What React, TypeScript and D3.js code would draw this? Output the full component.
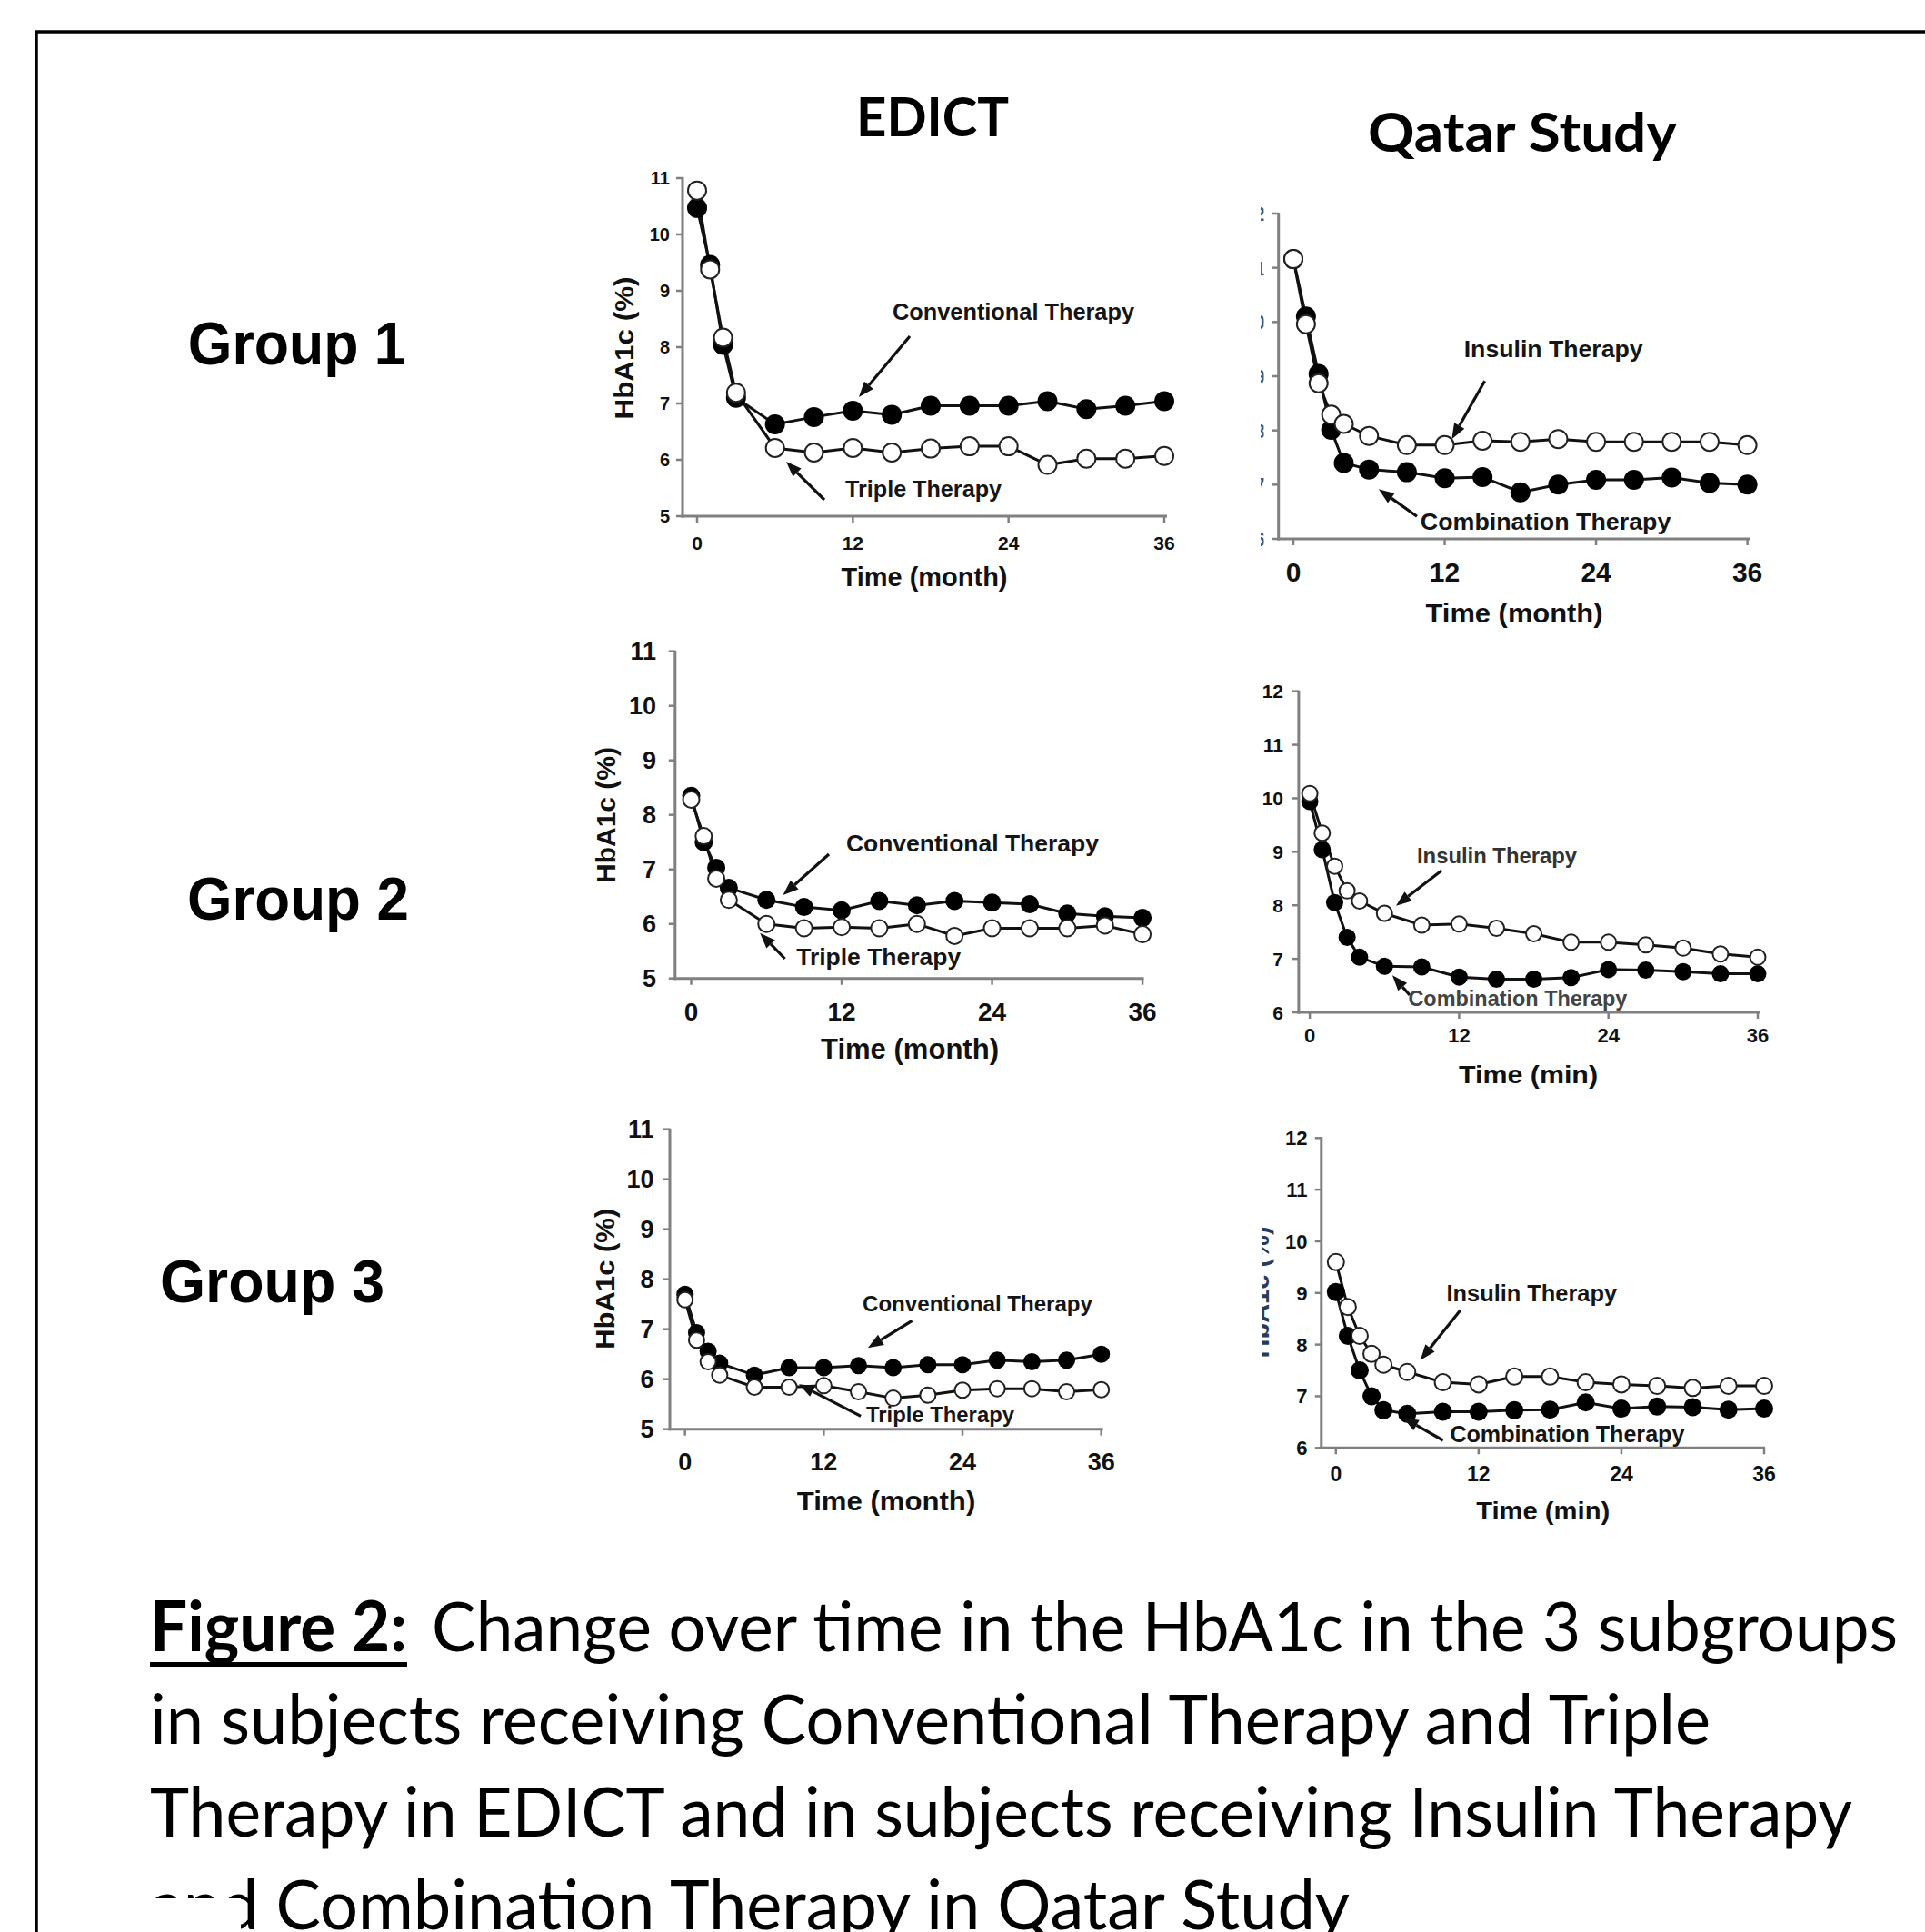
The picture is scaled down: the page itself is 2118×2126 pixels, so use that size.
import React from "react";
import * as d3 from "d3";

// ---------- DATA ----------
const monthsEdict = [0, 1, 2, 3, 6, 9, 12, 15, 18, 21, 24, 27, 30, 33, 36];
const monthsQatar = [0, 1, 2, 3, 4, 6, 9, 12, 15, 18, 21, 24, 27, 30, 33, 36];
const xTickValues = [0, 12, 24, 36];
const edictYTicks = [5, 6, 7, 8, 9, 10, 11];
const qatarYTicks = [6, 7, 8, 9, 10, 11, 12];

const g1EdictConventional = [10.47, 9.46, 8.04, 7.1, 6.63, 6.76, 6.87, 6.8, 6.96, 6.96, 6.96, 7.04, 6.9, 6.96, 7.04];
const g1EdictTriple = [10.78, 9.38, 8.17, 7.19, 6.21, 6.13, 6.21, 6.13, 6.2, 6.24, 6.24, 5.91, 6.02, 6.02, 6.07];

const g1QatarInsulin = [11.16, 9.96, 8.87, 8.29, 8.12, 7.9, 7.73, 7.73, 7.81, 7.79, 7.84, 7.79, 7.79, 7.79, 7.79, 7.73];
const g1QatarCombination = [11.16, 10.1, 9.04, 8.01, 7.4, 7.28, 7.23, 7.12, 7.14, 6.86, 7.0, 7.09, 7.09, 7.13, 7.03, 7.0];

const g2EdictConventional = [8.35, 7.5, 7.03, 6.66, 6.44, 6.31, 6.25, 6.42, 6.34, 6.42, 6.39, 6.36, 6.19, 6.14, 6.11];
const g2EdictTriple = [8.28, 7.61, 6.83, 6.44, 6.0, 5.92, 5.94, 5.92, 6.0, 5.78, 5.92, 5.92, 5.92, 5.97, 5.81];

const g2QatarInsulin = [10.09, 9.35, 8.73, 8.27, 8.08, 7.85, 7.63, 7.65, 7.57, 7.47, 7.31, 7.31, 7.26, 7.2, 7.09, 7.03];
const g2QatarCombination = [9.94, 9.04, 8.05, 7.4, 7.03, 6.86, 6.85, 6.66, 6.62, 6.62, 6.65, 6.8, 6.79, 6.76, 6.72, 6.72];

const g3EdictConventional = [7.7, 6.93, 6.56, 6.32, 6.08, 6.23, 6.23, 6.27, 6.23, 6.29, 6.29, 6.38, 6.35, 6.38, 6.5];
const g3EdictTriple = [7.59, 6.78, 6.35, 6.08, 5.84, 5.84, 5.87, 5.75, 5.62, 5.68, 5.78, 5.81, 5.81, 5.75, 5.79];

const g3QatarInsulin = [9.6, 8.73, 8.17, 7.82, 7.61, 7.47, 7.27, 7.23, 7.38, 7.38, 7.27, 7.23, 7.2, 7.16, 7.2, 7.2];
const g3QatarCombination = [9.02, 8.17, 7.5, 7.0, 6.73, 6.66, 6.7, 6.7, 6.73, 6.74, 6.88, 6.76, 6.8, 6.79, 6.74, 6.76];

const columnTitles = ["EDICT", "Qatar Study"];
const groupLabels = ["Group 1", "Group 2", "Group 3"];
const captionBold = "Figure 2:";
const captionLines = [
  "Change over time in the HbA1c in the 3 subgroups",
  "in subjects receiving Conventional Therapy and Triple",
  "Therapy in EDICT and in subjects receiving Insulin Therapy",
  "and Combination Therapy in Qatar Study",
];

// ---------- LAYOUT ----------
const W = 2118;
const H = 2126;
const FONT = "'Liberation Sans', Arial, sans-serif";
const CAP = "Lato, 'Open Sans', sans-serif";
const AXIS = "#808080";

type Ann = { text: string; x: number; y: number; size: number; len: number; arrow: number[]; color?: string };
type Panel = {
  id: string;
  months: number[];
  filled: number[];
  open: number[];
  yTicks: number[];
  axisX: number;
  yTopPx: number;
  yBotPx: number;
  x0: number;
  x36: number;
  axisEnd: number;
  r: number;
  yTickSize: number;
  yTickRight: number;
  yTickClip?: number[];
  xTickSize: number;
  xTickBaseline: number;
  xTitle: { text: string; cx: number; y: number; size: number; len: number };
  yTitle?: { cx: number; cy: number; size: number; len: number; clip?: number[] };
  ann: Ann[];
};

const panels: Panel[] = [
  {
    id: "g1e", months: monthsEdict, filled: g1EdictConventional, open: g1EdictTriple, yTicks: edictYTicks,
    axisX: 751, yTopPx: 196, yBotPx: 568, x0: 767, x36: 1281, axisEnd: 1284, r: 11,
    yTickSize: 20, yTickRight: 737, xTickSize: 21, xTickBaseline: 605,
    xTitle: { text: "Time (month)", cx: 1017, y: 645, size: 29, len: 183 },
    yTitle: { cx: 686, cy: 383, size: 30, len: 157 },
    ann: [
      { text: "Conventional Therapy", x: 982, y: 352, size: 25, len: 266, arrow: [1001, 370, 945, 437] },
      { text: "Triple Therapy", x: 930, y: 547, size: 25, len: 172, arrow: [907, 550, 865, 508] },
    ],
  },
  {
    id: "g1q", months: monthsQatar, filled: g1QatarCombination, open: g1QatarInsulin, yTicks: qatarYTicks,
    axisX: 1406.7, yTopPx: 235, yBotPx: 593, x0: 1423, x36: 1922.6, axisEnd: 1925.6, r: 11,
    yTickSize: 22, yTickRight: 1392, yTickClip: [1387, 3.5], xTickSize: 30, xTickBaseline: 640,
    xTitle: { text: "Time (month)", cx: 1666, y: 685, size: 30, len: 195 },
    ann: [
      { text: "Insulin Therapy", x: 1610.7, y: 392.7, size: 26, len: 197, arrow: [1633.6, 419.3, 1597.3, 483.3] },
      { text: "Combination Therapy", x: 1562.8, y: 583.3, size: 26, len: 275.6, arrow: [1559, 568.3, 1516.9, 538.3] },
    ],
  },
  {
    id: "g2e", months: monthsEdict, filled: g2EdictConventional, open: g2EdictTriple, yTicks: edictYTicks,
    axisX: 742.8, yTopPx: 716.7, yBotPx: 1076.7, x0: 760.5, x36: 1257.1, axisEnd: 1258.5, r: 10,
    yTickSize: 27, yTickRight: 722, xTickSize: 28, xTickBaseline: 1123,
    xTitle: { text: "Time (month)", cx: 1001, y: 1165, size: 31, len: 196 },
    yTitle: { cx: 665.8, cy: 897, size: 30, len: 150 },
    ann: [
      { text: "Conventional Therapy", x: 930.9, y: 936.7, size: 26, len: 278, arrow: [912, 940, 861.5, 985] },
      { text: "Triple Therapy", x: 876.2, y: 1061.7, size: 26, len: 181, arrow: [863.6, 1055, 836.2, 1026.7] },
    ],
  },
  {
    id: "g2q", months: monthsQatar, filled: g2QatarCombination, open: g2QatarInsulin, yTicks: qatarYTicks,
    axisX: 1428.9, yTopPx: 760.7, yBotPx: 1114, x0: 1441.1, x36: 1934, axisEnd: 1936, r: 9.5,
    yTickSize: 21, yTickRight: 1412, xTickSize: 22, xTickBaseline: 1147.3,
    xTitle: { text: "Time (min)", cx: 1681.5, y: 1191.7, size: 28, len: 153 },
    ann: [
      { text: "Insulin Therapy", x: 1559, y: 950, size: 23, len: 176, arrow: [1585.8, 958.3, 1536, 996.7], color: "#333" },
      { text: "Combination Therapy", x: 1549.4, y: 1106.7, size: 23, len: 241, arrow: [1551, 1095, 1532, 1073.3], color: "#444" },
    ],
  },
  {
    id: "g3e", months: monthsEdict, filled: g3EdictConventional, open: g3EdictTriple, yTicks: edictYTicks,
    axisX: 737, yTopPx: 1242.7, yBotPx: 1572.7, x0: 753.7, x36: 1211.7, axisEnd: 1213.6, r: 9.5,
    yTickSize: 27, yTickRight: 719.5, xTickSize: 27, xTickBaseline: 1618.3,
    xTitle: { text: "Time (month)", cx: 975, y: 1661.7, size: 30, len: 196.5 },
    yTitle: { cx: 665, cy: 1407.3, size: 30, len: 155 },
    ann: [
      { text: "Conventional Therapy", x: 949, y: 1443.3, size: 24, len: 253, arrow: [1003.5, 1453.3, 954.9, 1483.3] },
      { text: "Triple Therapy", x: 953, y: 1565, size: 24, len: 163, arrow: [947.1, 1558.3, 879, 1523.3] },
    ],
  },
  {
    id: "g3q", months: monthsQatar, filled: g3QatarCombination, open: g3QatarInsulin, yTicks: qatarYTicks,
    axisX: 1453.8, yTopPx: 1252.3, yBotPx: 1593.3, x0: 1469.8, x36: 1941, axisEnd: 1942, r: 10,
    yTickSize: 22, yTickRight: 1438.5, xTickSize: 23, xTickBaseline: 1630,
    xTitle: { text: "Time (min)", cx: 1697.7, y: 1671.7, size: 28, len: 147 },
    yTitle: { cx: 1386, cy: 1422, size: 28, len: 145, clip: [1388.5, 13] },
    ann: [
      { text: "Insulin Therapy", x: 1591.5, y: 1431.7, size: 25, len: 187.5, arrow: [1606.8, 1441.7, 1562.8, 1496.7] },
      { text: "Combination Therapy", x: 1595.4, y: 1586.7, size: 25, len: 258, arrow: [1587.7, 1585, 1543.7, 1560] },
    ],
  },
];

function Arrow({ a }: { a: number[] }) {
  const [x1, y1, x2, y2] = a;
  const ang = Math.atan2(y2 - y1, x2 - x1);
  const L = 17, hw = 6.5;
  const bx = x2 - L * Math.cos(ang), by = y2 - L * Math.sin(ang);
  const px = -Math.sin(ang), py = Math.cos(ang);
  const pts = [[x2, y2], [bx + hw * px, by + hw * py], [bx - hw * px, by - hw * py]];
  return (
    <g>
      <line x1={x1} y1={y1} x2={bx} y2={by} stroke="#111" strokeWidth={3.2} />
      <polygon points={pts.map((p) => p.join(",")).join(" ")} fill="#111" />
    </g>
  );
}

function PanelView({ p }: { p: Panel }) {
  const yMin = p.yTicks[0];
  const yMax = p.yTicks[p.yTicks.length - 1];
  const x = d3.scaleLinear().domain([0, 36]).range([p.x0, p.x36]);
  const y = d3.scaleLinear().domain([yMin, yMax]).range([p.yBotPx, p.yTopPx]);
  const line = d3.line<number>().x((_, i) => x(p.months[i])).y((v) => y(v));
  const clipId = `clip-${p.id}`;
  const yClipId = `yclip-${p.id}`;
  return (
    <g>
      <defs>
        {p.yTickClip && (
          <clipPath id={clipId}>
            <rect x={p.yTickClip[0]} y={0} width={p.yTickClip[1]} height={H} />
          </clipPath>
        )}
        {p.yTitle && p.yTitle.clip && (
          <clipPath id={yClipId}>
            <rect x={p.yTitle.clip[0]} y={0} width={p.yTitle.clip[1]} height={H} />
          </clipPath>
        )}
      </defs>
      {/* axes */}
      <line x1={p.axisX} y1={p.yTopPx - 1} x2={p.axisX} y2={p.yBotPx + 1.5} stroke={AXIS} strokeWidth={3} />
      <line x1={p.axisX - 1.5} y1={p.yBotPx} x2={p.axisEnd} y2={p.yBotPx} stroke={AXIS} strokeWidth={3} />
      {p.yTicks.map((t) => (
        <line key={"yt" + t} x1={p.axisX - 7} x2={p.axisX} y1={y(t)} y2={y(t)} stroke={AXIS} strokeWidth={2.5} />
      ))}
      {xTickValues.map((t) => (
        <line key={"xt" + t} x1={x(t)} x2={x(t)} y1={p.yBotPx} y2={p.yBotPx + 7} stroke={AXIS} strokeWidth={2.5} />
      ))}
      {/* y tick labels */}
      <g clipPath={p.yTickClip ? `url(#${clipId})` : undefined}>
        {p.yTicks.map((t) => (
          <text key={"yl" + t} x={p.yTickRight} y={y(t)} dy="0.36em" textAnchor="end"
            fontFamily={FONT} fontWeight={700} fontSize={p.yTickSize} fill={p.yTickClip ? "#3a5a8a" : "#111"}>
            {t}
          </text>
        ))}
      </g>
      {/* x tick labels */}
      {xTickValues.map((t) => (
        <text key={"xl" + t} x={x(t)} y={p.xTickBaseline} textAnchor="middle"
          fontFamily={FONT} fontWeight={700} fontSize={p.xTickSize} fill="#111">
          {t}
        </text>
      ))}
      {/* x title */}
      <text x={p.xTitle.cx} y={p.xTitle.y} textAnchor="middle" fontFamily={FONT} fontWeight={700}
        fontSize={p.xTitle.size} textLength={p.xTitle.len} lengthAdjust="spacingAndGlyphs" fill="#111">
        {p.xTitle.text}
      </text>
      {/* y title */}
      {p.yTitle && (
        <g clipPath={p.yTitle.clip ? `url(#${yClipId})` : undefined}>
          <text transform={`translate(${p.yTitle.cx},${p.yTitle.cy}) rotate(-90)`} dy="0.36em" textAnchor="middle"
            fontFamily={FONT} fontWeight={700} fontSize={p.yTitle.size} textLength={p.yTitle.len}
            lengthAdjust="spacingAndGlyphs" fill={p.yTitle.clip ? "#2a3a5a" : "#111"}>
            HbA1c (%)
          </text>
        </g>
      )}
      {/* series lines */}
      <path d={line(p.filled) || ""} fill="none" stroke="#111" strokeWidth={3} />
      <path d={line(p.open) || ""} fill="none" stroke="#111" strokeWidth={3} />
      {/* markers */}
      {p.filled.map((v, i) => (
        <circle key={"f" + i} cx={x(p.months[i])} cy={y(v)} r={p.r} fill="#000" />
      ))}
      {p.open.map((v, i) => (
        <circle key={"o" + i} cx={x(p.months[i])} cy={y(v)} r={p.r - 1} fill="#fff" stroke="#222" strokeWidth={2} />
      ))}
      {/* annotations */}
      {p.ann.map((a, i) => (
        <g key={"a" + i}>
          <Arrow a={a.arrow} />
          <text x={a.x} y={a.y} fontFamily={FONT} fontWeight={700} fontSize={a.size} textLength={a.len}
            lengthAdjust="spacingAndGlyphs" fill={a.color || "#151515"}>
            {a.text}
          </text>
        </g>
      ))}
    </g>
  );
}

const groupPos = [
  { x: 206.7, y: 401, len: 240 },
  { x: 206, y: 1012, len: 244 },
  { x: 176, y: 1433, len: 247 },
];
const titlePos = [
  { cx: 1026, y: 150, len: 168 },
  { cx: 1675, y: 167, len: 340 },
];
const capBase = [1817, 1919, 2021, 2123];
const capLen = [1613, 1717, 1873, 1320];

export default function App() {
  return (
    <svg width={W} height={H} viewBox={`0 0 ${W} ${H}`}
      style={{ position: "absolute", left: 0, top: 0, display: "block", background: "#fff" }}>
      <rect x={0} y={0} width={W} height={H} fill="#fff" />
      {/* frame */}
      <path d={`M40,${H} V35 H${W}`} fill="none" stroke="#000" strokeWidth={3.5} />
      {/* column titles */}
      {columnTitles.map((t, i) => (
        <text key={t} x={titlePos[i].cx} y={titlePos[i].y} textAnchor="middle" fontFamily={CAP} fontWeight={700}
          fontSize={60} textLength={titlePos[i].len} lengthAdjust="spacingAndGlyphs" fill="#000">
          {t}
        </text>
      ))}
      {/* group labels */}
      {groupLabels.map((t, i) => (
        <text key={t} x={groupPos[i].x} y={groupPos[i].y} fontFamily={FONT} fontWeight={700} fontSize={66}
          textLength={groupPos[i].len} lengthAdjust="spacingAndGlyphs" fill="#000">
          {t}
        </text>
      ))}
      {panels.map((p) => (
        <PanelView key={p.id} p={p} />
      ))}
      {/* caption */}
      <text x={165} y={capBase[0]} fontFamily={CAP} fontWeight={700} fontSize={76} textLength={283}
        lengthAdjust="spacingAndGlyphs" fill="#000">
        {captionBold}
      </text>
      <rect x={165} y={capBase[0] + 12} width={283} height={5} fill="#000" />
      {captionLines.map((t, i) => (
        <text key={i} x={i === 0 ? 475 : 165} y={capBase[i]} fontFamily={CAP} fontSize={76}
          textLength={capLen[i]} lengthAdjust="spacingAndGlyphs" fill="#000">
          {t}
        </text>
      ))}
      {/* partly erased "an" in the last line, as in the source */}
      <rect x={160} y={capBase[3] - 34} width={105} height={40} fill="#fff" />
    </svg>
  );
}
